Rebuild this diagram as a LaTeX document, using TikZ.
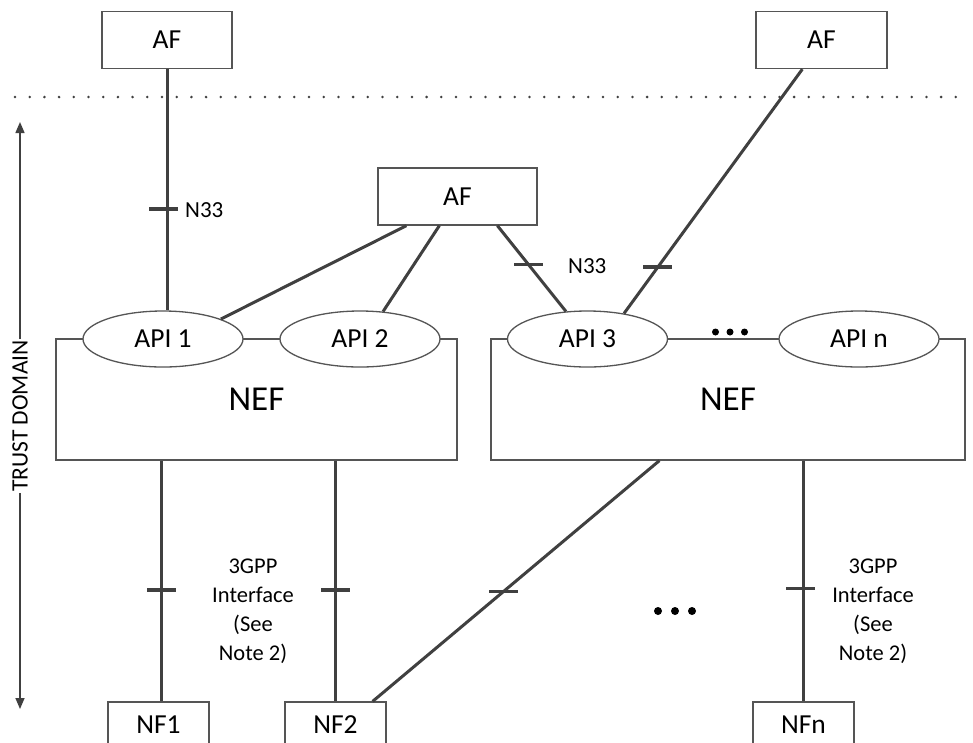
\documentclass[tikz,border=0pt]{standalone}
\usepackage{fontspec}
\setmainfont{Carlito}
\usetikzlibrary{arrows.meta,calc,shapes.geometric}
\definecolor{ln}{HTML}{404040}
\definecolor{bd}{HTML}{555555}
\begin{document}
\begin{tikzpicture}[x=1pt,y=-1pt,
  box/.style={draw=bd, line width=1.3pt, fill=white, inner sep=0pt, font=\fontsize{27.5}{31}\selectfont},
  api/.style={ellipse, draw=bd, line width=1.3pt, fill=white, minimum width=160pt, minimum height=56pt, inner sep=0pt, font=\fontsize{27.5}{31}\selectfont},
  nef/.style={draw=bd, line width=1.3pt, fill=white, inner sep=0pt, font=\fontsize{35}{40}\selectfont},
  conn/.style={draw=ln, line width=3pt},
  tk/.style={fill=ln, draw=none, shape=rectangle, minimum width=29pt, minimum height=3.2pt, inner sep=0pt},
  lbl/.style={font=\fontsize{23}{27}\selectfont, inner sep=0pt},
  note/.style={font=\fontsize{22.5}{29}\selectfont, align=center, inner sep=0pt},
  tdarrow/.style={draw=ln, line width=1.5pt, -{Triangle[length=11pt,width=9pt]}}
]
\useasboundingbox (0,0) rectangle (973,742);
\clip (0,0) rectangle (973,742);

% dotted boundary
\coordinate (dl) at (15,97);
\coordinate (dr) at (970,97);
\draw[ln, line width=2.8pt, line cap=round, dash pattern=on 0pt off 14.7pt] (dl) -- (dr);

% NEF boxes
\node[nef, minimum width=401pt, minimum height=121pt] (nef1) at (256.5,399.5) {NEF};
\node[nef, minimum width=474pt, minimum height=121pt] (nef2) at (728,399.5) {NEF};

% API ellipses
\node[api] (api1) at (163,339) {API 1};
\node[api] (api2) at (360,339) {API 2};
\node[api] (api3) at (587.5,339) {API 3};
\node[api] (apin) at (859,339) {API n};

% AF boxes
\node[box, minimum width=130pt, minimum height=57pt] (af1) at (167,40) {AF};
\node[box, minimum width=131pt, minimum height=57pt] (af2) at (821.5,40) {AF};
\node[box, minimum width=159pt, minimum height=57pt] (afm) at (457.5,196.5) {AF};

% NF boxes
\node[box, minimum width=101pt, minimum height=46pt] (nf1) at (158.5,725) {NF1};
\node[box, minimum width=101pt, minimum height=46pt] (nf2) at (335.5,725) {NF2};
\node[box, minimum width=101pt, minimum height=46pt] (nfn) at (803.5,725) {NFn};

% connectors above NEF
\draw[conn] (af1.south) -- (af1.south |- api1.north) node[pos=0.58, tk, xshift=-4pt] {};
\draw[conn] ($(afm.south west)+(29,0)$) -- (api1.19);
\draw[conn] ($(afm.south west)+(62,0)$) -- (api2.50);
\draw[conn] ($(afm.south west)+(120,0)$) -- (api3.128) node[pos=0.455, tk] {};
\draw[conn] ($(af2.south west)+(47,0)$) -- (api3.35) node[pos=0.81, tk] {};
\draw[conn] ($(af2.south west)+(102,0)$) -- ($(af2.south west)+(102,0)$ |- apin.north);

% connectors below NEF
\coordinate (n1top) at ($(nf1.north west)+(54,0)$);
\draw[conn] (n1top |- nef1.south) -- (n1top) node[pos=0.537, tk] {};
\draw[conn] (nf2.north |- nef1.south) -- (nf2.north) node[pos=0.537, tk] {};
\draw[conn] ($(nef2.south west)+(169,0)$) -- ($(nf2.north east)+(-14,0)$) node[pos=0.545, tk] {};
\draw[conn] (nfn.north |- nef2.south) -- (nfn.north) node[pos=0.53, tk, xshift=-3pt] {};

% labels
\node[lbl, anchor=west] (n33a) at (185,210) {N33};
\node[lbl, anchor=west] (n33b) at (568,266) {N33};
\node[note] (g1) at (253,611) {3GPP\\Interface\\(See\\Note 2)};
\node[note] (g2) at (873,611) {3GPP\\Interface\\(See\\Note 2)};

% ellipsis dots
\foreach \x in {715.5,730,744.5} \fill[black] (\x,332) circle (3.5pt);
\foreach \x in {658,675,692} \fill[black] (\x,611) circle (4pt);

% trust domain
\node[font=\fontsize{23.5}{27}\selectfont, rotate=90, fill=white, inner sep=1pt] (td) at (20,416) {TRUST DOMAIN};
\draw[tdarrow] (td.east) -- (20,122);
\draw[tdarrow] (td.west) -- (20,709);
\end{tikzpicture}
\end{document}
